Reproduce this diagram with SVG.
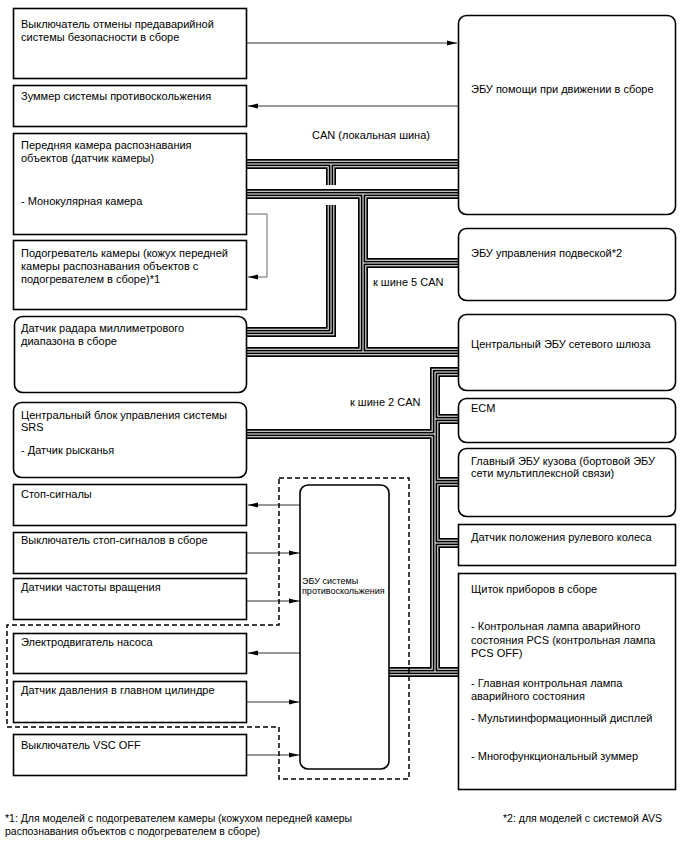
<svg xmlns="http://www.w3.org/2000/svg" xmlns:xlink="http://www.w3.org/1999/xlink" width="688" height="852" viewBox="0 0 688 852">
<style>
text{font-family:"Liberation Sans",Arial,sans-serif;font-size:11px;fill:#000}
.small{font-size:9px}
.note{font-size:10.5px}
.box{fill:#fff;stroke:#000;stroke-width:1.6}
.thin{fill:none;stroke:#333;stroke-width:1}
.gray{fill:none;stroke:#666;stroke-width:1}
.dash{fill:none;stroke:#000;stroke-width:1.5;stroke-dasharray:5 3}
.bus{fill:none;stroke-linejoin:miter;stroke-linecap:butt}
</style>
<defs>
<marker id="ah" markerUnits="userSpaceOnUse" markerWidth="10" markerHeight="6" refX="10" refY="3" orient="auto">
<path d="M0,0.5 L10,3 L0,5.5 Z" fill="#000"/>
</marker>
<g id="busPaths">
<path d="M246,164 H459"/>
<path d="M331,164 V185"/>
<path d="M331,205 V332 H246"/>
<path d="M246,194 H459"/>
<path d="M363,194 V352"/>
<path d="M363,263 H459"/>
<path d="M246,352 H459"/>
<path d="M459,372 H435 V672"/>
<path d="M389,672 H459"/>
<path d="M435,419 H459"/>
<path d="M435,434 H246"/>
<path d="M435,482 H459"/>
<path d="M435,543 H459"/>
</g>
</defs>
<rect width="688" height="852" fill="#fff"/>

<g id="connectors">
<g class="bus">
<use xlink:href="#busPaths" stroke="#000" stroke-width="10"/>
<use xlink:href="#busPaths" stroke="#fff" stroke-width="6.6"/>
<use xlink:href="#busPaths" stroke="#000" stroke-width="4.6"/>
<use xlink:href="#busPaths" stroke="#fff" stroke-width="1"/>
</g>
<path class="thin" d="M247,43 H457" marker-end="url(#ah)"/>
<path class="thin" d="M458,106 H248" marker-end="url(#ah)"/>
<path class="gray" d="M247,214 H267 V277 H248" marker-end="url(#ah)"/>
<path class="thin" d="M300,505 H248" marker-end="url(#ah)"/>
<path class="thin" d="M247,553 H299" marker-end="url(#ah)"/>
<path class="thin" d="M247,601 H299" marker-end="url(#ah)"/>
<path class="thin" d="M300,653 H248" marker-end="url(#ah)"/>
<path class="thin" d="M247,702 H299" marker-end="url(#ah)"/>
<path class="thin" d="M247,755 H299" marker-end="url(#ah)"/>
<text x="312" y="139">CAN (локальная шина)</text>
<text x="373" y="286">к шине 5 CAN</text>
<text x="350" y="406">к шине 2 CAN</text>
</g>

<g id="boundary">
<path class="dash" d="M279,478 H409 V779 H279 V727 H7 V625 H279 Z"/>
</g>

<g id="n-pcs-switch">
<rect class="box" x="13.5" y="8.5" width="233" height="70"/>
<text x="21" y="28">Выключатель отмены предаварийной</text>
<text x="21" y="41">системы безопасности в сборе</text>
</g>
<g id="n-buzzer">
<rect class="box" x="13.5" y="85.5" width="233" height="41"/>
<text x="21" y="100">Зуммер системы противоскольжения</text>
</g>
<g id="n-camera">
<rect class="box" x="13.5" y="133.5" width="233" height="101"/>
<text x="21" y="149">Передняя камера распознавания</text>
<text x="21" y="162">объектов (датчик камеры)</text>
<text x="21" y="205">- Монокулярная камера</text>
</g>
<g id="n-heater">
<rect class="box" x="13.5" y="240.5" width="233" height="69"/>
<text x="21" y="257">Подогреватель камеры (кожух передней</text>
<text x="21" y="270">камеры распознавания объектов с</text>
<text x="21" y="283">подогревателем в сборе)*1</text>
</g>
<g id="n-radar">
<rect class="box" x="14.5" y="316.5" width="232" height="76" rx="8"/>
<text x="21" y="332">Датчик радара миллиметрового</text>
<text x="21" y="345">диапазона в сборе</text>
</g>
<g id="n-srs">
<rect class="box" x="13.5" y="402.5" width="233" height="75" rx="8"/>
<text x="21" y="419">Центральный блок управления системы</text>
<text x="21" y="431">SRS</text>
<text x="21" y="454">- Датчик рысканья</text>
</g>
<g id="n-stoplights">
<rect class="box" x="13.5" y="484.5" width="233" height="41"/>
<text x="21" y="498">Стоп-сигналы</text>
</g>
<g id="n-stop-switch">
<rect class="box" x="13.5" y="532.5" width="233" height="41"/>
<text x="21" y="544">Выключатель стоп-сигналов в сборе</text>
</g>
<g id="n-speed">
<rect class="box" x="13.5" y="578.5" width="233" height="41"/>
<text x="21" y="591">Датчики частоты вращения</text>
</g>
<g id="n-pump">
<rect class="box" x="13.5" y="633.5" width="233" height="40"/>
<text x="21" y="646">Электродвигатель насоса</text>
</g>
<g id="n-pressure">
<rect class="box" x="13.5" y="681.5" width="233" height="41"/>
<text x="21" y="694">Датчик давления в главном цилиндре</text>
</g>
<g id="n-vsc">
<rect class="box" x="13.5" y="734.5" width="233" height="41"/>
<text x="21" y="749">Выключатель VSC OFF</text>
</g>

<g id="n-abs">
<rect class="box" x="300" y="485" width="89" height="284" rx="8"/>
<text class="small" x="302" y="584">ЭБУ системы</text>
<text class="small" x="302" y="594">противоскольжения</text>
</g>

<g id="n-drive-ecu">
<rect class="box" x="458.5" y="15.5" width="217" height="199" rx="8"/>
<text x="471" y="93">ЭБУ помощи при движении в сборе</text>
</g>
<g id="n-suspension">
<rect class="box" x="458.5" y="228.5" width="217" height="72" rx="8"/>
<text x="471" y="257">ЭБУ управления подвеской*2</text>
</g>
<g id="n-gateway">
<rect class="box" x="458.5" y="314.5" width="217" height="76" rx="8"/>
<text x="471" y="348">Центральный ЭБУ сетевого шлюза</text>
</g>
<g id="n-ecm">
<rect class="box" x="458.5" y="398.5" width="217" height="44" rx="8"/>
<text x="471" y="412">ECM</text>
</g>
<g id="n-body">
<rect class="box" x="458.5" y="448.5" width="217" height="68" rx="8"/>
<text x="471" y="465">Главный ЭБУ кузова (бортовой ЭБУ</text>
<text x="471" y="477">сети мультиплексной связи)</text>
</g>
<g id="n-steering">
<rect class="box" x="458.5" y="524.5" width="217" height="41"/>
<text x="471" y="541">Датчик положения рулевого колеса</text>
</g>
<g id="n-meter">
<rect class="box" x="458.5" y="573.5" width="217" height="216"/>
<text x="471" y="593">Щиток приборов в сборе</text>
<text x="471" y="630">- Контрольная лампа аварийного</text>
<text x="471" y="644">состояния PCS (контрольная лампа</text>
<text x="471" y="657">PCS OFF)</text>
<text x="471" y="687">- Главная контрольная лампа</text>
<text x="471" y="700">аварийного состояния</text>
<text x="471" y="722">- Мультиинформационный дисплей</text>
<text x="471" y="760">- Многофункциональный зуммер</text>
</g>

<g id="notes">
<text class="note" x="5" y="822">*1: Для моделей с подогревателем камеры (кожухом передней камеры</text>
<text class="note" x="5" y="835">распознавания объектов с подогревателем в сборе)</text>
<text class="note" x="503" y="822">*2: для моделей с системой AVS</text>
</g>
</svg>
